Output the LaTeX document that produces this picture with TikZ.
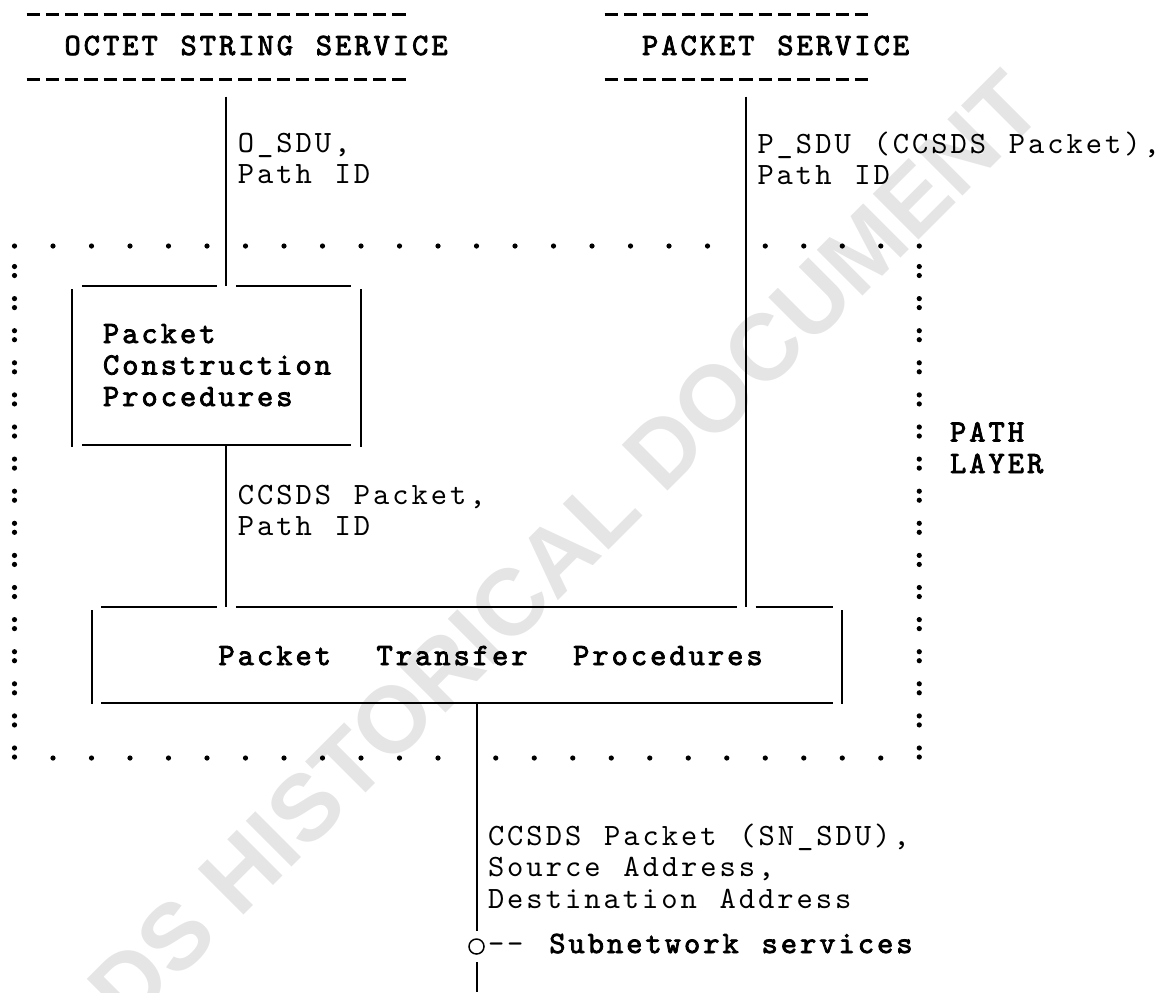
\documentclass[tikz,border=0pt]{standalone}
\usepackage{fontspec}
\newfontfamily\typer{lmmono10-regular.otf}[AutoFakeBold=2.5, LetterSpace=9.6, WordSpace=1.1828]
\newfontfamily\markfont{Liberation Sans}
\tikzset{
	wire/.style={line width=1pt},
	rule/.style={line width=1.5pt, dash pattern=on 6.6pt off 3.025pt},
	txt/.style={anchor=base west, inner sep=0pt, align=left, font=\typer\fontsize{15.5pt}{15.75pt}\selectfont},
	btxt/.style={txt, font=\typer\bfseries\fontsize{15.5pt}{15.75pt}\selectfont},
	area/.style={rectangle, inner sep=0pt, outer sep=0pt},
}
\begin{document}
\begin{tikzpicture}[x=0.5pt, y=-0.5pt, line cap=butt]
	\useasboundingbox (0,0) rectangle (1159,992);
	\node[rotate=45, text=black!10, font=\markfont\bfseries\fontsize{47pt}{47pt}\selectfont] (mark) at (495,618) {CCSDS HISTORICAL DOCUMENT};
	% service headings
	\draw[rule] (26.6,14) -- (408.1,14) (26.6,79) -- (408.1,79);
	\draw[rule] (604.6,14) -- (870.4,14) (604.6,79) -- (870.4,79);
	\node[btxt] (osvc) at (64.1,55) {OCTET STRING SERVICE};
	\node[btxt] (psvc) at (641.6,55) {PACKET SERVICE};
	% path layer frame
	\foreach \c in {0,2,...,36}{
		\fill ({14.5+19.25*\c},246) circle(1.3pt);}
	\foreach \c in {39,41,...,47}{
		\fill ({14.5+19.25*\c},246) circle(1.3pt);}
	\foreach \k in {0,...,15}{
		\fill (14.5,{266.5+32.1*\k}) circle(1.3pt) (14.5,{275.5+32.1*\k}) circle(1.3pt);
		\fill (919.25,{266.5+32.1*\k}) circle(1.3pt) (919.25,{275.5+32.1*\k}) circle(1.3pt);}
	\foreach \c in {2,4,...,22}{
		\fill ({14.5+19.25*\c},758) circle(1.3pt);}
	\foreach \c in {25,27,...,45}{
		\fill ({14.5+19.25*\c},758) circle(1.3pt);}
	\node[btxt] (layer) at (949.6,473) {PATH\\LAYER};
	% procedure boxes
	\node[area, minimum width=144.375pt, minimum height=79.8pt] (pcp) at (216.6,365.5) {};
	\node[area, minimum width=375.375pt, minimum height=48pt] (ptp) at (466.9,654.7) {};
	\draw[wire] (81.9,285.7) -- (216.6,285.7) (235.9,285.7) -- (351.4,285.7) (81.9,445.3) -- (351.4,445.3);
	\draw[wire] (72.25,289) -- (72.25,446.7) (361,289) -- (361,446.7);
	\draw[wire] (101.1,606.7) -- (216.6,606.7) (235.9,606.7) -- (736.6,606.7) (755.6,606.7) -- (832.6,606.7) (101.1,702.7) -- (832.6,702.7);
	\draw[wire] (91.5,610) -- (91.5,704) (842.25,610) -- (842.25,704);
	\node[btxt] (pcptxt) at (102.6,406) {Packet\\Construction\\Procedures};
	\node[btxt] (ptptxt) at (218.1,665) {Packet\ \ Transfer\ \ Procedures};
	% connectors
	\coordinate (ol) at (226.25,96.7);
	\coordinate (pl) at (746,96.7);
	\coordinate (base) at (476.5,992);
	\node[circle, draw, line width=0.75pt, minimum size=7.5pt, inner sep=0pt, outer sep=4.2pt] (sno) at (476.5,946.5) {};
	\draw[wire] (ol) -- (ol |- pcp.north);
	\draw[wire] (ol |- pcp.south) -- (ol |- ptp.north);
	\draw[wire] (pl) -- (pl |- ptp.north);
	\draw[wire] (ptp.south -| sno) -- (sno);
	\draw[wire] (sno) -- (base);
	\node[txt] (olab) at (237.4,183.5) {O\_SDU,\\Path ID};
	\node[txt] (plab) at (757.1,184.5) {P\_SDU (CCSDS Packet),\\Path ID};
	\node[txt] (clab) at (237.4,535.5) {CCSDS Packet,\\Path ID};
	\node[txt] (snlab) at (487.6,908) {CCSDS Packet (SN\_SDU),\\Source Address,\\Destination Address};
	\node[txt] (sntxt) at (487.6,953) {{-}{-} \textbf{Subnetwork services}};
\end{tikzpicture}
\end{document}
